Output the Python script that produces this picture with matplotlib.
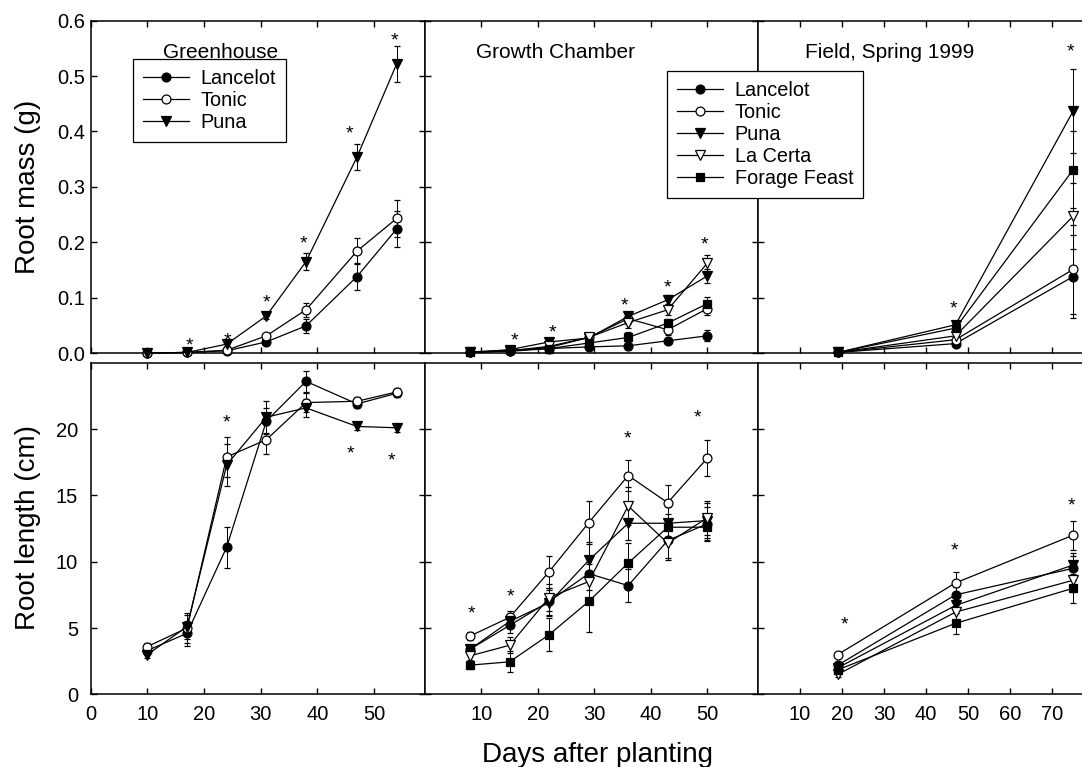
import matplotlib
matplotlib.use("Agg")
import matplotlib.pyplot as plt
from matplotlib.lines import Line2D

plt.rcParams['font.family'] = ['Liberation Sans', 'DejaVu Sans']

# ---------------- data ----------------
cultivars = ["Lancelot", "Tonic", "Puna", "La Certa", "Forage Feast"]
panel_titles = ["Greenhouse", "Growth Chamber", "Field, Spring 1999"]

gh_days = [10, 17, 24, 31, 38, 47, 54]
gc_days = [8, 15, 22, 29, 36, 43, 50]
fd_days = [19, 47, 75]

# Root mass (g)
gh_mass = {
    "Lancelot": [0.000, 0.001, 0.004, 0.020, 0.049, 0.138, 0.224],
    "Tonic":    [0.000, 0.001, 0.005, 0.031, 0.078, 0.184, 0.243],
    "Puna":     [0.000, 0.001, 0.016, 0.067, 0.165, 0.354, 0.522],
}
gh_mass_err = {
    "Lancelot": [0.001, 0.001, 0.002, 0.004, 0.013, 0.024, 0.033],
    "Tonic":    [0.001, 0.001, 0.002, 0.004, 0.013, 0.023, 0.034],
    "Puna":     [0.001, 0.001, 0.003, 0.005, 0.015, 0.024, 0.033],
}
gc_mass = {
    "Lancelot":     [0.002, 0.003, 0.008, 0.011, 0.013, 0.022, 0.031],
    "Tonic":        [0.001, 0.004, 0.010, 0.028, 0.062, 0.042, 0.080],
    "Puna":         [0.001, 0.006, 0.020, 0.027, 0.066, 0.096, 0.139],
    "La Certa":     [0.001, 0.004, 0.012, 0.028, 0.055, 0.078, 0.162],
    "Forage Feast": [0.002, 0.005, 0.008, 0.018, 0.028, 0.054, 0.089],
}
gc_mass_err = {
    "Lancelot":     [0.001, 0.001, 0.002, 0.003, 0.008, 0.005, 0.010],
    "Tonic":        [0.001, 0.001, 0.003, 0.004, 0.010, 0.010, 0.012],
    "Puna":         [0.001, 0.002, 0.004, 0.004, 0.008, 0.008, 0.012],
    "La Certa":     [0.001, 0.001, 0.003, 0.004, 0.010, 0.010, 0.015],
    "Forage Feast": [0.001, 0.001, 0.002, 0.004, 0.010, 0.008, 0.012],
}
fd_mass = {
    "Lancelot":     [0.001, 0.017, 0.138],
    "Tonic":        [0.001, 0.024, 0.151],
    "Puna":         [0.001, 0.051, 0.437],
    "La Certa":     [0.001, 0.031, 0.247],
    "Forage Feast": [0.001, 0.045, 0.331],
}
fd_mass_err = {
    "Lancelot":     [0.001, 0.004, 0.075],
    "Tonic":        [0.001, 0.004, 0.080],
    "Puna":         [0.001, 0.004, 0.075],
    "La Certa":     [0.001, 0.004, 0.060],
    "Forage Feast": [0.001, 0.004, 0.070],
}

# Root length (cm)
gh_len = {
    "Lancelot": [3.3, 4.6, 11.1, 20.6, 23.6, 21.9, 22.7],
    "Tonic":    [3.6, 5.0, 17.9, 19.2, 22.0, 22.1, 22.8],
    "Puna":     [3.0, 5.1, 17.3, 20.9, 21.6, 20.2, 20.1],
}
gh_len_err = {
    "Lancelot": [0.3, 0.95, 1.55, 1.0, 0.8, 0.3, 0.3],
    "Tonic":    [0.3, 1.1, 1.5, 1.1, 0.7, 0.3, 0.3],
    "Puna":     [0.3, 0.9, 1.6, 1.2, 0.7, 0.3, 0.3],
}
gc_len = {
    "Lancelot":     [3.4, 5.2, 7.0, 9.1, 8.2, 11.6, 12.85],
    "Tonic":        [4.4, 5.8, 9.25, 12.94, 16.5, 14.45, 17.8],
    "Puna":         [3.4, 5.5, 6.9, 10.1, 12.9, 12.9, 13.1],
    "La Certa":     [2.9, 3.7, 7.3, 8.5, 14.2, 11.4, 13.3],
    "Forage Feast": [2.2, 2.45, 4.5, 7.0, 9.9, 12.6, 12.6],
}
gc_len_err = {
    "Lancelot":     [0.3, 0.6, 1.0, 1.2, 1.25, 1.3, 1.3],
    "Tonic":        [0.3, 0.5, 1.2, 1.6, 1.2, 1.35, 1.35],
    "Puna":         [0.3, 0.5, 1.0, 1.4, 1.3, 1.2, 1.3],
    "La Certa":     [0.3, 0.6, 1.0, 1.3, 1.4, 1.3, 1.3],
    "Forage Feast": [0.3, 0.8, 1.25, 2.3, 1.5, 1.0, 1.0],
}
fd_len = {
    "Lancelot":     [2.2, 7.5, 9.5],
    "Tonic":        [3.0, 8.4, 12.0],
    "Puna":         [2.0, 6.7, 9.75],
    "La Certa":     [1.5, 6.2, 8.6],
    "Forage Feast": [1.85, 5.35, 8.0],
}
fd_len_err = {
    "Lancelot":     [0.2, 0.6, 0.9],
    "Tonic":        [0.2, 0.8, 1.1],
    "Puna":         [0.2, 0.6, 0.9],
    "La Certa":     [0.2, 0.6, 0.9],
    "Forage Feast": [0.2, 0.8, 1.1],
}

# significance asterisks (x = day, y = value)
gh_mass_star_x = [17.5, 24.2, 31.0, 37.6, 45.6, 53.6]
gh_mass_star_y = [0.023, 0.033, 0.102, 0.207, 0.406, 0.575]
gc_mass_star_x = [15.8, 22.6, 35.3, 42.9, 49.5]
gc_mass_star_y = [0.033, 0.048, 0.096, 0.129, 0.206]
fd_mass_star_x = [46.5, 74.4]
fd_mass_star_y = [0.090, 0.554]
gh_len_star_x = [23.9, 45.9, 53.0]
gh_len_star_y = [20.9, 18.6, 18.05]
gc_len_star_x = [8.2, 15.2, 35.9, 48.3]
gc_len_star_y = [6.5, 7.8, 19.75, 21.3]
fd_len_star_x = [20.5, 46.7, 74.7]
fd_len_star_y = [5.65, 11.3, 14.65]

mass_ticks = [0.0, 0.1, 0.2, 0.3, 0.4, 0.5, 0.6]
len_ticks = [0, 5, 10, 15, 20]
gh_xticks = [0, 10, 20, 30, 40, 50]
gc_xticks = [10, 20, 30, 40, 50]
fd_xticks = [10, 20, 30, 40, 50, 60, 70]

# ---------------- styles ----------------
style = {
    "Lancelot":     dict(marker="o", mfc="black", ms=6.4),
    "Tonic":        dict(marker="o", mfc="white", ms=6.4),
    "Puna":         dict(marker="v", mfc="black", ms=6.8),
    "La Certa":     dict(marker="v", mfc="white", ms=6.8),
    "Forage Feast": dict(marker="s", mfc="black", ms=5.8),
}

W, H = 1082, 767
fig = plt.figure(figsize=(W / 100, H / 100), dpi=100)


def px_rect(x0, x1, ytop, ybot):
    return [x0 / W, 1 - ybot / H, (x1 - x0) / W, (ybot - ytop) / H]


cols = [(90.7, 425.0), (425.0, 758.0), (758.0, 1082.0)]
rows = [(20.7, 353.0), (362.8, 694.3)]
xlims = [(0, 59), (0, 59), (0, 77.1)]

axes = [[None] * 3 for _ in range(2)]
for r in range(2):
    for c in range(3):
        ax = fig.add_axes(px_rect(cols[c][0], cols[c][1], rows[r][0], rows[r][1]))
        axes[r][c] = ax

panel_data = [
    [(gh_days, gh_mass, gh_mass_err, gh_mass_star_x, gh_mass_star_y),
     (gc_days, gc_mass, gc_mass_err, gc_mass_star_x, gc_mass_star_y),
     (fd_days, fd_mass, fd_mass_err, fd_mass_star_x, fd_mass_star_y)],
    [(gh_days, gh_len, gh_len_err, gh_len_star_x, gh_len_star_y),
     (gc_days, gc_len, gc_len_err, gc_len_star_x, gc_len_star_y),
     (fd_days, fd_len, fd_len_err, fd_len_star_x, fd_len_star_y)],
]
xticks = [gh_xticks, gc_xticks, fd_xticks]

for r in range(2):
    for c in range(3):
        ax = axes[r][c]
        days, vals, errs, sx, sy = panel_data[r][c]
        for name in cultivars:
            if name not in vals:
                continue
            st = style[name]
            ax.errorbar(days, vals[name], yerr=errs[name], color="black",
                        lw=0.9, elinewidth=0.7, capsize=2.3, capthick=0.7,
                        marker=st["marker"], mfc=st["mfc"], mec="black",
                        mew=0.9, ms=st["ms"], zorder=3, clip_on=False)
        for x, y in zip(sx, sy):
            ax.annotate("*", (x, y), xytext=(0, -7.6), textcoords="offset points",
                        ha="center", va="baseline", fontsize=14)
        ax.set_xlim(*xlims[c])
        if r == 0:
            ax.set_ylim(0, 0.6)
            ax.set_yticks(mass_ticks)
            ax.set_yticklabels(["%.1f" % t for t in mass_ticks])
        else:
            ax.set_ylim(0, 25)
            ax.set_yticks(len_ticks)
            ax.set_yticklabels([str(t) for t in len_ticks])
        ax.set_xticks(xticks[c])
        ax.set_xticklabels([str(t) for t in xticks[c]])
        ax.tick_params(direction="in", top=True, right=(c != 2), length=4.5,
                       width=1.0, labelsize=14.5, colors="black")
        ax.tick_params(axis="x", pad=8, labelbottom=(r == 1))
        ax.tick_params(axis="y", pad=(4 if r == 0 else 9), labelleft=(c == 0))
        for sp in ax.spines.values():
            sp.set_linewidth(1.1)
        if c == 2:
            ax.spines["right"].set_visible(False)

# panel titles
title_x = [0.387, 0.391, 0.405]
for c in range(3):
    axes[0][c].text(title_x[c], (353.0 - 58.0) / 332.3, panel_titles[c],
                    transform=axes[0][c].transAxes, ha="center", va="baseline",
                    fontsize=15, zorder=10)

# axis labels
fig.text(28 / W, 1 - 187 / H, "Root mass (g)", rotation=90, ha="center",
         va="center", fontsize=20)
fig.text(28 / W, 1 - 528 / H, "Root length (cm)", rotation=90, ha="center",
         va="center", fontsize=20)
fig.text(598 / W, 1 - 762 / H, "Days after planting", ha="center",
         va="baseline", fontsize=20)


def handle(name):
    st = style[name]
    return Line2D([], [], color="black", lw=0.9, marker=st["marker"],
                  mfc=st["mfc"], mec="black", mew=0.9, ms=st["ms"])


leg_kw = dict(loc="upper left", bbox_transform=fig.transFigure, borderaxespad=0,
              fontsize=14.3, frameon=True, fancybox=False, edgecolor="black",
              framealpha=1, handlelength=2.3, handletextpad=0.6,
              borderpad=0.5, labelspacing=0.15)

leg1 = axes[0][0].legend([handle(n) for n in cultivars[:3]], cultivars[:3],
                         bbox_to_anchor=(133.3 / W, 1 - 59.3 / H), **leg_kw)
leg1.get_frame().set_linewidth(0.9)
leg1.set_zorder(5)

leg2 = fig.legend([handle(n) for n in cultivars], cultivars,
                  bbox_to_anchor=(667.3 / W, 1 - 71 / H), **leg_kw)
leg2.get_frame().set_linewidth(0.9)

fig.savefig("out.png", dpi=100)
